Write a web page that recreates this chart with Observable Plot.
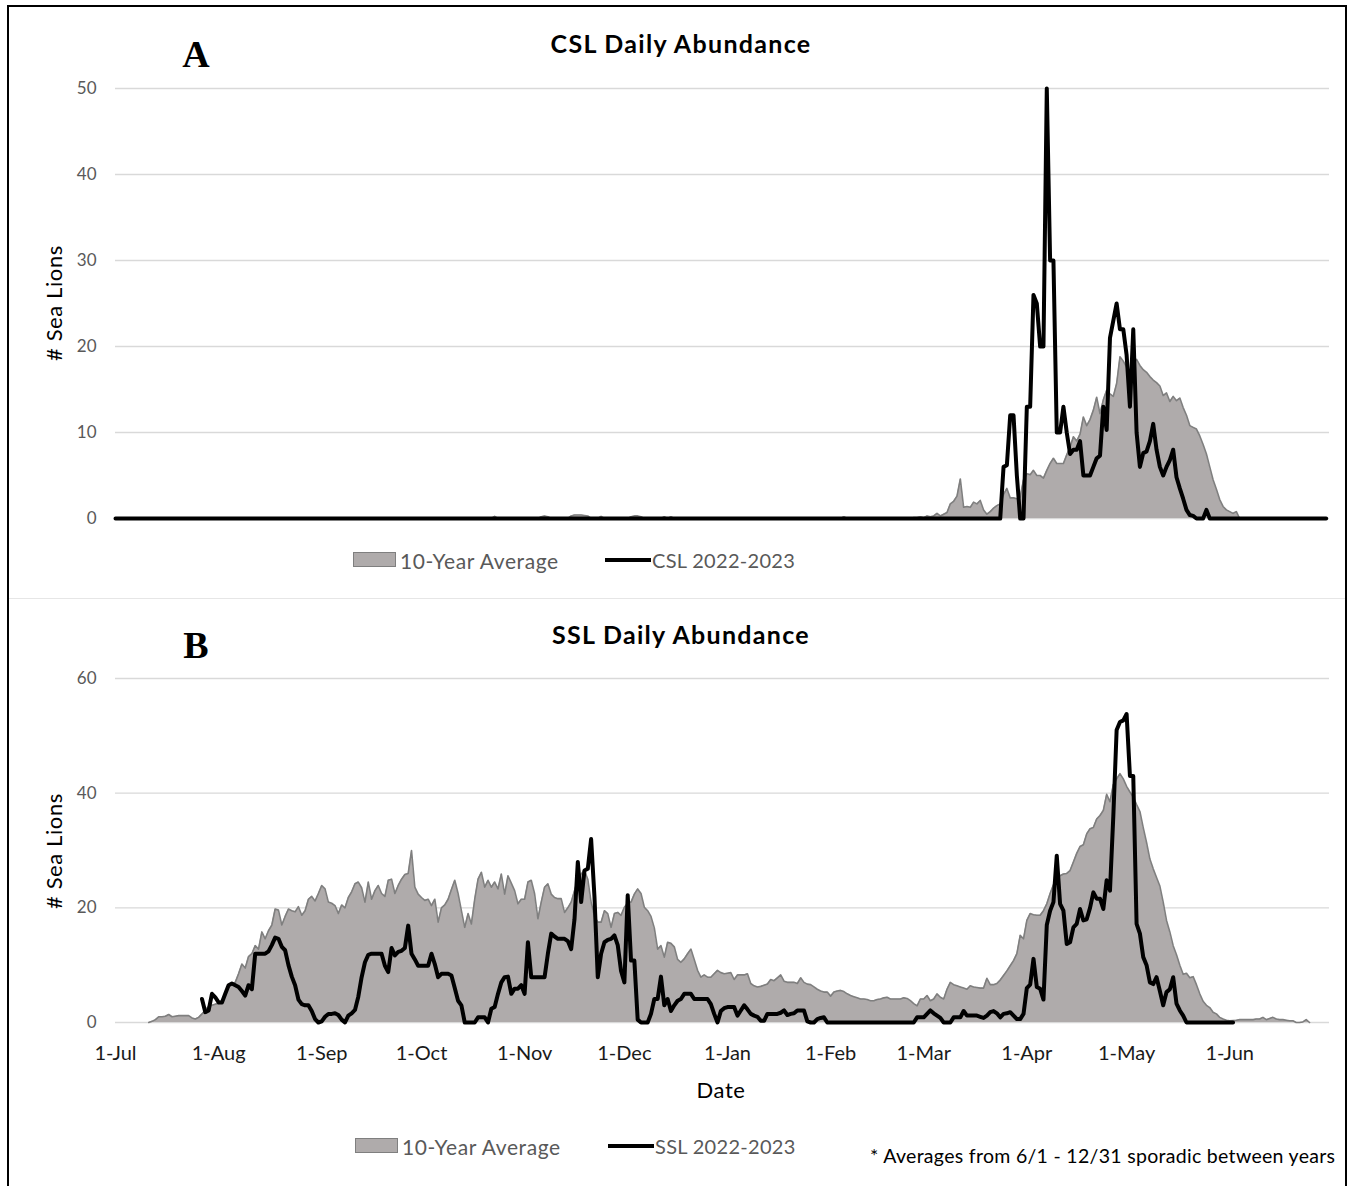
<!DOCTYPE html>
<html>
<head>
<meta charset="utf-8">
<script src="https://cdn.jsdelivr.net/npm/d3@7"></script>
<script src="https://cdn.jsdelivr.net/npm/@observablehq/plot@0.6"></script>
<style>
  body { margin: 0; background: #fff; }
  #page { position: relative; width: 1354px; height: 1186px; overflow: hidden; background: #fff; font-family: Lato, "Open Sans", sans-serif; }
  .t { position: absolute; white-space: nowrap; line-height: 1; }
  .chart { position: absolute; left: 0; }
  .chart svg { overflow: visible; }
</style>
</head>
<body>
<div id="page"></div>
<script>
// ---------- DATA (daily values, 1-Jul-2022 .. 30-Jun-2023, one row per month) ----------
const monthTicks = ["1-Jul","1-Aug","1-Sep","1-Oct","1-Nov","1-Dec","1-Jan","1-Feb","1-Mar","1-Apr","1-May","1-Jun"];
const yTicksCSL = [0, 10, 20, 30, 40, 50];
const yTicksSSL = [0, 20, 40, 60];

// CSL 10-year average
const cslAvg = [
  /*Jul*/ 0,0,0,0,0,0,0,0,0,0,0,0,0,0,0,0,0,0,0,0,0,0,0,0,0,0,0,0,0,0,0,
  /*Aug*/ 0,0,0,0,0,0,0,0,0,0,0,0,0,0,0,0,0,0,0,0,0,0,0,0,0,0,0,0,0,0,0,
  /*Sep*/ 0,0,0,0,0,0,0,0,0,0,0,0,0,0,0,0,0,0,0,0,0,0,0,0,0,0,0,0,0,0,
  /*Oct*/ 0,0,0,0,0,0,0,0,0,0,0,0,0,0,0,0,0,0,0,0,0,0,0.25,0,0,0,0,0,0,0,0,
  /*Nov*/ 0,0,0,0,0,0.2,0.3,0.2,0,0,0,0,0,0,0.3,0.4,0.4,0.4,0.35,0.3,0,0,0,0.25,0,0,0,0,0,0,
  /*Dec*/ 0,0,0.2,0.3,0.3,0.2,0,0,0,0,0,0,0.2,0,0.2,0,0,0,0,0,0,0,0,0,0,0,0,0,0,0,0,
  /*Jan*/ 0,0,0,0,0,0,0,0,0,0,0,0,0,0,0,0,0,0,0,0,0,0,0,0,0,0,0,0,0,0,0,
  /*Feb*/ 0,0,0,0,0.2,0,0,0,0,0,0,0,0,0,0,0,0,0,0,0,0,0,0,0,0,0.1,0.1,0.2,
  /*Mar*/ 0.1,0.3,0.2,0.3,0.6,0.3,0.5,0.7,1.7,2.0,2.6,4.6,1.3,1.4,1.3,1.9,1.7,2.1,1.0,0.5,0.8,1.2,1.5,1.7,2.8,3.5,2.4,2.4,2.3,2.5,4.5,
  /*Apr*/ 5.2,5.1,5.6,5.0,5.0,4.7,5.6,6.4,7.0,6.4,6.4,6.4,7.4,8.3,9.5,9.0,9.8,11.8,10.8,11.5,12.6,14.1,12.2,13.8,14.9,14.5,14.2,15.7,18.8,18.3,
  /*May*/ 17.6,17.0,18.0,18.5,17.8,17.3,17.0,16.5,16.1,15.8,15.4,14.3,14.6,13.6,14.2,13.7,14.0,12.9,12.0,10.8,10.6,10.4,9.6,8.6,7.5,6.0,4.5,3.4,2.2,1.4,1.0,
  /*Jun*/ 0.8,0.6,0.8,0,0,0,0,0,0,0,0,0,0,0,0,0,0,0,0,0,0,0,0,0,0,0,0,0,0,0
];

// CSL 2022-2023
const csl2223 = [
  /*Jul*/ 0,0,0,0,0,0,0,0,0,0,0,0,0,0,0,0,0,0,0,0,0,0,0,0,0,0,0,0,0,0,0,
  /*Aug*/ 0,0,0,0,0,0,0,0,0,0,0,0,0,0,0,0,0,0,0,0,0,0,0,0,0,0,0,0,0,0,0,
  /*Sep*/ 0,0,0,0,0,0,0,0,0,0,0,0,0,0,0,0,0,0,0,0,0,0,0,0,0,0,0,0,0,0,
  /*Oct*/ 0,0,0,0,0,0,0,0,0,0,0,0,0,0,0,0,0,0,0,0,0,0,0,0,0,0,0,0,0,0,0,
  /*Nov*/ 0,0,0,0,0,0,0,0,0,0,0,0,0,0,0,0,0,0,0,0,0,0,0,0,0,0,0,0,0,0,
  /*Dec*/ 0,0,0,0,0,0,0,0,0,0,0,0,0,0,0,0,0,0,0,0,0,0,0,0,0,0,0,0,0,0,0,
  /*Jan*/ 0,0,0,0,0,0,0,0,0,0,0,0,0,0,0,0,0,0,0,0,0,0,0,0,0,0,0,0,0,0,0,
  /*Feb*/ 0,0,0,0,0,0,0,0,0,0,0,0,0,0,0,0,0,0,0,0,0,0,0,0,0,0,0,0,
  /*Mar*/ 0,0,0,0,0,0,0,0,0,0,0,0,0,0,0,0,0,0,0,0,0,0,0,0,6,6.2,12,12,5,0,0,
  /*Apr*/ 13,13,26,25,20,20,50,30,30,10,10,13,10,7.5,8,8,9,5,5,5,6,7,7.3,13,10.3,21,23,25,22,22,
  /*May*/ 19,13,22,10,6,7.6,7.8,9,11,8,6,5,6,6.8,8,4.8,3.5,2.3,1,0.4,0.3,0,0,0,1,0,0,0,0,0,0,
  /*Jun*/ 0,0,0,0,0,0,0,0,0,0,0,0,0,0,0,0,0,0,0,0,0,0,0,0,0,0,0,0,0,0
];

// SSL 10-year average
const sslAvg = [
  /*Jul*/ null,null,null,null,null,null,null,null,null,null,0,0.2,0.5,1.0,1.0,1.1,1.4,1.0,1.1,1.2,1.2,1.2,1.2,0.8,0.6,0.9,1.5,2.2,2.8,3.0,3.2,
  /*Aug*/ 3.3,3.8,5.0,6.2,6.6,7.0,8.5,10.2,9.5,11.5,12.0,13.4,12.8,15.8,14.6,16.0,17.0,19.8,19.6,17.0,18.5,19.8,19.5,19.3,20.2,18.7,19.5,21.5,22.0,21.2,22.5,
  /*Sep*/ 23.9,23.3,21.0,20.8,20.4,19.0,20.5,20.0,21.8,22.8,24.2,24.5,23.5,21.0,24.5,21.5,23.0,23.9,22.5,22.0,24.8,25.0,22.5,23.9,25.0,25.8,26.0,30.0,23.6,22.4,
  /*Oct*/ 21.8,21.3,21.5,20.4,21.5,17.5,20.0,20.5,21.5,23.2,24.8,22.5,19.5,16.6,19.0,17.2,21.5,25.0,26.2,23.6,24.8,23.6,24.5,23.3,25.9,22.4,25.6,24.3,23.0,20.7,21.5,
  /*Nov*/ 21.5,24.5,24.8,22.5,18.1,21.0,23.6,24.2,22.4,21.8,21.6,21.6,19.2,20.0,21.0,23.0,25.0,25.9,26.5,25.0,21.0,18.5,17.5,17.5,19.5,19.0,16.6,19.0,19.2,18.7,
  /*Dec*/ 20.1,20.8,21.0,22.4,23.3,22.5,20.1,19.5,18.5,16.5,12.8,13.4,11.4,14.0,13.8,13.2,11.0,10.5,11.1,12.0,12.8,11.0,9.1,7.9,8.3,7.9,7.9,8.5,9.1,8.7,8.5,
  /*Jan*/ 8.6,8.7,7.5,8.3,8.3,8.3,8.5,6.8,6.4,6.2,6.3,6.5,6.7,7.5,7.3,7.8,8.3,7.2,7.0,7.0,7.0,6.8,7.8,7.0,6.7,6.6,6.2,5.8,5.5,5.3,5.3,
  /*Feb*/ 4.6,5.3,5.5,5.6,5.4,5.0,4.7,4.5,4.3,4.1,4.1,4.0,3.8,3.8,4.0,4.1,4.3,4.4,4.1,4.1,4.1,4.1,4.3,4.2,3.8,3.3,2.9,4.1,
  /*Mar*/ 4.1,4.7,3.8,4.1,5.0,4.4,4.1,5.8,7.0,6.6,6.4,6.2,6.0,5.8,6.4,6.2,6.1,6.0,6.0,7.7,6.6,6.6,6.8,7.4,8.2,9.0,9.9,10.8,12.0,15.2,14.6,
  /*Apr*/ 17.8,19.0,18.8,18.7,18.7,19.5,20.7,22.5,24.0,25.1,25.6,25.9,26.0,26.5,28.0,29.5,30.7,31.0,32.9,33.8,34.0,35.5,36.1,37.0,39.8,38.5,41.5,42.5,43.4,42.5,
  /*May*/ 41.2,40.2,39.3,38.0,36.8,34.0,31.4,28.5,26.8,25.3,23.8,21.0,17.8,15.8,13.4,11.8,10.0,8.4,8.6,7.8,8.0,6.6,5.0,3.7,3.0,2.6,1.8,1.5,0.9,0.6,0.4,
  /*Jun*/ 0.3,0.35,0.4,0.5,0.5,0.5,0.5,0.5,0.6,0.6,0.9,0.5,0.7,0.9,0.6,0.5,0.5,0.4,0.3,0.3,0,0,0.1,0.5,0,null,null,null,null,null
];

// SSL 2022-2023
const ssl2223 = [
  /*Jul*/ null,null,null,null,null,null,null,null,null,null,null,null,null,null,null,null,null,null,null,null,null,null,null,null,null,null,4.1,1.8,2.1,5.0,4.4,
  /*Aug*/ 3.5,3.5,5.0,6.5,6.8,6.5,6.2,5.5,4.7,6.5,5.8,12.0,12.0,12.0,12.0,12.4,13.5,14.8,14.6,13.2,12.6,10.0,8.0,6.5,4.0,3.2,3.0,3.0,2.0,0.6,0,
  /*Sep*/ 0.2,1.0,1.5,1.5,1.6,1.3,0.5,0,1.2,1.6,2.2,4.5,7.9,10.5,11.8,12.0,12.0,12.0,12.0,9.9,8.8,13.0,11.7,12.3,12.5,13.0,16.9,12.0,11.0,9.9,
  /*Oct*/ 9.9,9.9,9.9,12.0,10.2,7.9,8.5,8.5,8.5,8.2,6.0,3.8,3.0,0,0,0,0,0.9,0.9,0.9,0,2.4,2.7,5.0,7.0,7.9,8.0,5.0,5.9,5.9,6.5,
  /*Nov*/ 5.0,14.0,7.9,7.9,7.9,7.9,7.9,12.0,15.5,15.0,14.6,14.6,14.6,14.2,12.8,18.0,28.0,21.0,26.5,26.8,32.0,22.0,7.9,12.0,14.0,14.4,14.6,15.2,13.5,9.0,
  /*Dec*/ 7.0,22.2,10.8,10.8,0.5,0,0,0,1.5,4.1,4.1,8.0,3.0,4.1,2.0,3.0,3.8,4.1,5.0,5.0,5.0,4.1,4.1,4.1,4.1,4.1,3.2,1.5,0,2.0,2.5,
  /*Jan*/ 2.7,2.7,2.7,1.2,2.1,3.0,2.3,1.5,1.2,1.0,0.3,0.3,1.5,1.5,1.5,1.5,1.7,2.1,1.3,1.5,1.6,2.1,2.1,2.1,0.2,0,0,0.6,0.8,0.9,0,
  /*Feb*/ 0,0,0,0,0,0,0,0,0,0,0,0,0,0,0,0,0,0,0,0,0,0,0,0,0,0,0.9,0.9,
  /*Mar*/ 0.9,1.5,2.1,1.6,1.2,0.8,0,0,0,0.9,0.9,0.9,2.0,1.2,1.2,1.2,1.2,1.0,0.8,1.2,1.8,2.0,1.6,0.9,1.5,1.6,1.8,1.2,0.6,0.6,1.5,
  /*Apr*/ 6.0,6.6,11.1,6.2,5.9,4.0,17.0,19.5,21.0,29.1,20.7,19.5,13.7,14.0,16.6,17.2,19.8,17.8,18.0,20.0,22.7,21.6,21.6,19.8,24.8,23.0,36.0,51.0,52.4,52.7,
  /*May*/ 53.8,43.0,43.0,17.2,15.5,11.4,10.0,7.0,6.7,7.9,5.5,3.0,5.3,5.8,7.9,3.3,2.1,1.2,0,0,0,0,0,0,0,0,0,0,0,0,0,
  /*Jun*/ 0,0,null,null,null,null,null,null,null,null,null,null,null,null,null,null,null,null,null,null,null,null,null,null,null,null,null,null,null,null
];

// ---------- BUILD ----------
const start = new Date(Date.UTC(2022, 6, 1));
const end = new Date(Date.UTC(2023, 6, 1));
const dates = d3.utcDay.range(start, end);
const monthDates = d3.utcMonth.range(start, end);
const tickLabel = new Map(monthDates.map((d, i) => [+d, monthTicks[i]]));

const csl = dates.map((date, i) => ({date, avg: cslAvg[i], yr: csl2223[i]}));
const ssl = dates.map((date, i) => ({date, avg: sslAvg[i], yr: ssl2223[i]}));

const FONT = "Lato, 'Open Sans', sans-serif";
const AREA_FILL = "#afabab", AREA_EDGE = "#7f7f7f", GRID = "#d9d9d9";

const page = document.getElementById("page");

function addText(txt, x, y, opts = {}) {
  const el = document.createElement("div");
  el.className = "t";
  el.textContent = txt;
  el.style.left = x + "px";
  el.style.top = y + "px";
  el.style.fontSize = (opts.size || 16) + "px";
  el.style.color = opts.color || "#000";
  if (opts.ls) el.style.letterSpacing = opts.ls + "px";
  if (opts.bold) el.style.fontWeight = "bold";
  if (opts.family) el.style.fontFamily = opts.family;
  let tr = "";
  if (opts.anchor === "middle") tr += "translateX(-50%) ";
  tr += "translateY(-50%) ";
  if (opts.rotate) tr = "translate(-50%,-50%) rotate(" + opts.rotate + "deg)";
  el.style.transform = tr;
  page.appendChild(el);
  return el;
}

function addBox(x, y, w, h, style) {
  const el = document.createElement("div");
  el.style.position = "absolute";
  el.style.left = x + "px"; el.style.top = y + "px";
  el.style.width = w + "px"; el.style.height = h + "px";
  el.style.boxSizing = "border-box";
  Object.assign(el.style, style);
  page.appendChild(el);
  return el;
}

function panel(data, yMax, yTicks, top, height, mTop, mBottom, withX) {
  const marks = [
    Plot.gridY(yTicks, {stroke: GRID, strokeOpacity: 1, strokeWidth: 1.3}),
    Plot.areaY(data, {x: "date", y1: 0, y2: "avg", fill: AREA_FILL, curve: "linear"}),
    Plot.lineY(data, {x: "date", y: "avg", stroke: AREA_EDGE, strokeWidth: 1.6, curve: "linear"}),
    Plot.lineY(data, {x: "date", y: "yr", stroke: "#000", strokeWidth: 4, curve: "linear", strokeLinejoin: "round"}),
    Plot.axisY(yTicks, {tickSize: 0, tickPadding: 19, fontSize: 17, fill: "#595959", label: null})
  ];
  if (withX) {
    marks.push(Plot.axisX(monthDates, {
      tickSize: 0, tickPadding: 23, fontSize: 20, fill: "#1a1a1a", label: null,
      tickFormat: d => tickLabel.get(+d)
    }));
  }
  const svg = Plot.plot({
    width: 1354, height,
    marginLeft: 115, marginRight: 25, marginTop: mTop, marginBottom: mBottom,
    style: {fontFamily: FONT, background: "transparent", overflow: "visible"},
    x: {type: "utc", domain: [start, end], axis: null, label: null},
    y: {domain: [0, yMax], axis: null, label: null},
    marks
  });
  const wrap = document.createElement("div");
  wrap.className = "chart";
  wrap.style.top = top + "px";
  wrap.appendChild(svg);
  page.appendChild(wrap);
}

// frame and separator
addBox(7, 5, 1340, 1200, {border: "2px solid #000"});
addBox(9, 598, 1336, 1, {background: "#e6e6e6"});

// Panel A
panel(csl, 50, yTicksCSL, 60, 480, 28, 22, false);
// Panel B
panel(ssl, 60, yTicksSSL, 650, 420, 28, 48, true);

// Titles
addText("CSL Daily Abundance", 681, 43, {size: 25, bold: true, anchor: "middle", ls: 1.3});
addText("SSL Daily Abundance", 681, 634, {size: 25, bold: true, anchor: "middle", ls: 1.3});
addText("A", 196, 54, {size: 38, bold: true, anchor: "middle", family: "'Liberation Serif', 'DejaVu Serif', serif"});
addText("B", 196, 645, {size: 38, bold: true, anchor: "middle", family: "'Liberation Serif', 'DejaVu Serif', serif"});

// y-axis titles
addText("# Sea Lions", 54, 303, {size: 22, rotate: -90, ls: 0.6});
addText("# Sea Lions", 54, 851, {size: 22, rotate: -90, ls: 0.6});

// x-axis title
addText("Date", 721, 1090, {size: 22, anchor: "middle", ls: 0.6});

// Legend A
addBox(353, 552, 43, 15, {background: AREA_FILL, border: "1px solid " + AREA_EDGE});
addText("10-Year Average", 400, 560, {size: 21, color: "#595959", ls: 0.6});
addBox(605, 558, 46, 4, {background: "#000"});
addText("CSL 2022-2023", 652, 560, {size: 20, color: "#595959", ls: 0.3});

// Legend B
addBox(355, 1138, 43, 15, {background: AREA_FILL, border: "1px solid " + AREA_EDGE});
addText("10-Year Average", 402, 1146, {size: 21, color: "#595959", ls: 0.6});
addBox(608, 1144, 46, 4, {background: "#000"});
addText("SSL 2022-2023", 655, 1146, {size: 20, color: "#595959", ls: 0.3});

// footnote
addText("* Averages from 6/1 - 12/31 sporadic between years", 870, 1156, {size: 19.5, ls: 0.3});
</script>
</body>
</html>
